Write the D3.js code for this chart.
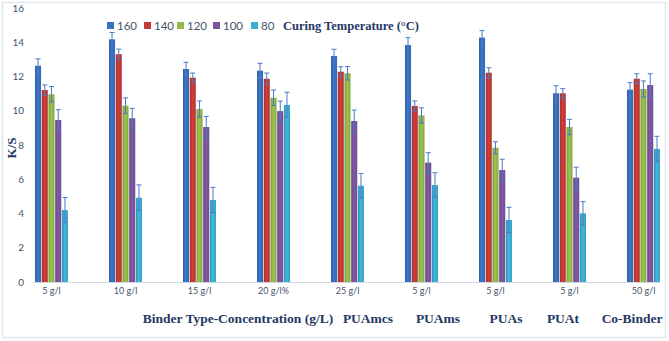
<!DOCTYPE html>
<html>
<head>
<meta charset="utf-8">
<script src="https://cdn.jsdelivr.net/npm/d3@7"></script>
<style>
  body { margin: 0; background: #fff; }
  svg { display: block; }
</style>
</head>
<body>
<div class="chart"></div>
<script>
// data
var groups = ["5 g/l", "10 g/l", "15 g/l", "20 g/l%", "25 g/l", "5 g/l ", "5 g/l  ", "5 g/l   ", "50 g/l"];
var temps = ["160", "140", "120", "100", "80"];
var k160 = [12.63, 14.17, 12.44, 12.34, 13.2, 13.84, 14.27, 11.02, 11.23];
var k140 = [11.21, 13.3, 11.93, 11.87, 12.28, 10.28, 12.22, 11.02, 11.87];
var k120 = [10.96, 10.3, 10.1, 10.76, 12.19, 9.73, 7.84, 9.05, 11.27];
var k100 = [9.46, 9.56, 9.05, 9.98, 9.4, 6.97, 6.54, 6.09, 11.5];
var k80 = [4.2, 4.92, 4.79, 10.34, 5.62, 5.66, 3.62, 4.01, 7.77];
var e160 = [0.4, 0.4, 0.39, 0.43, 0.39, 0.43, 0.41, 0.44, 0.41];
var e140 = [0.3, 0.3, 0.27, 0.33, 0.29, 0.29, 0.29, 0.27, 0.29];
var e120 = [0.45, 0.45, 0.47, 0.45, 0.39, 0.44, 0.35, 0.45, 0.47];
var e100 = [0.6, 0.58, 0.62, 0.58, 0.64, 0.58, 0.63, 0.61, 0.66];
var e80 = [0.73, 0.75, 0.74, 0.74, 0.72, 0.72, 0.74, 0.68, 0.74];
var yTicks = [0, 2, 4, 6, 8, 10, 12, 14, 16];
var binderLabels = ["Binder Type-Concentration (g/L)", "PUAmcs", "PUAms", "PUAs", "PUAt", "Co-Binder"];

var colors = ["#3a70c0", "#c43a36", "#94b94a", "#7a54a0", "#3cb0d2"];
var values = [k160, k140, k120, k100, k80];
var errors = [e160, e140, e120, e100, e80];

var svgWidth = 669;
var svgHeight = 341;

var svg = d3.select(".chart")
  .append("svg")
  .attr("width", svgWidth)
  .attr("height", svgHeight);

// outer frame
svg.append("rect")
  .attr("x", 2.5).attr("y", 2.5)
  .attr("width", 663).attr("height", 335)
  .attr("fill", "none")
  .attr("stroke", "#dfe6f0")
  .attr("stroke-width", 1.5);

// gradients so bars look a little shaded
var defs = svg.append("defs");
colors.forEach(function(c, i) {
  var g = defs.append("linearGradient")
    .attr("id", "grad" + i)
    .attr("x1", "0%").attr("x2", "100%").attr("y1", "0%").attr("y2", "0%");
  g.append("stop").attr("offset", "0%").attr("stop-color", d3.color(c).darker(0.5));
  g.append("stop").attr("offset", "45%").attr("stop-color", d3.color(c).brighter(0.15));
  g.append("stop").attr("offset", "100%").attr("stop-color", d3.color(c).darker(0.25));
});

// scales
var x0 = d3.scaleBand()
  .domain(groups)
  .range([16.5, 678.5])
  .paddingInner(0.554)
  .paddingOuter(0.25);

var x1 = d3.scaleBand()
  .domain(temps)
  .range([0, x0.bandwidth()])
  .paddingInner(0.1);

var y = d3.scaleLinear()
  .domain([0, 16])
  .range([282, 8]);

// y tick labels (no axis line)
var yAxis = d3.axisLeft(y).tickValues(yTicks).tickSize(0).tickPadding(0);
var yg = svg.append("g")
  .attr("transform", "translate(24,0)")
  .call(yAxis);
yg.select(".domain").remove();
yg.selectAll("text")
  .attr("font-family", "Lato, 'Open Sans', sans-serif")
  .attr("font-size", 10)
  .attr("fill", "#44546a");

// bars
var rows = [];
groups.forEach(function(g, gi) {
  temps.forEach(function(t, ti) {
    rows.push({ group: g, temp: t, ti: ti, v: values[ti][gi], e: errors[ti][gi] });
  });
});

svg.append("g").selectAll("rect")
  .data(rows)
  .enter()
  .append("rect")
  .attr("x", d => x0(d.group) + x1(d.temp))
  .attr("y", d => y(d.v))
  .attr("width", x1.bandwidth())
  .attr("height", d => y(0) - y(d.v))
  .attr("fill", d => "url(#grad" + d.ti + ")");

// error bars
var eb = svg.append("g")
  .attr("stroke", "#4a78c8")
  .attr("stroke-width", 1);

rows.forEach(function(d) {
  var cx = x0(d.group) + x1(d.temp) + x1.bandwidth() / 2;
  eb.append("line")
    .attr("x1", cx).attr("x2", cx)
    .attr("y1", y(d.v + d.e)).attr("y2", y(d.v - d.e));
  eb.append("line")
    .attr("x1", cx - 2.5).attr("x2", cx + 2.5)
    .attr("y1", y(d.v + d.e)).attr("y2", y(d.v + d.e));
  eb.append("line")
    .attr("x1", cx - 2.5).attr("x2", cx + 2.5)
    .attr("y1", y(d.v - d.e)).attr("y2", y(d.v - d.e));
});

// x axis line and category labels
svg.append("line")
  .attr("x1", 33).attr("x2", 660)
  .attr("y1", y(0) + 0.5).attr("y2", y(0) + 0.5)
  .attr("stroke", "#d0d8e4");

var xAxis = d3.axisBottom(x0).tickSize(0).tickPadding(0);
var xg = svg.append("g")
  .attr("transform", "translate(0,288)")
  .call(xAxis);
xg.select(".domain").remove();
xg.selectAll("text")
  .attr("font-family", "Lato, 'Open Sans', sans-serif")
  .attr("font-size", 9)
  .attr("fill", "#44546a");

// binder type labels
var binderX = [238, 368, 438, 506, 563, 632];
svg.append("g").selectAll("text")
  .data(binderLabels)
  .enter()
  .append("text")
  .attr("x", (d, i) => binderX[i])
  .attr("y", 323)
  .attr("text-anchor", "middle")
  .attr("font-family", "'Liberation Serif', 'Times New Roman', serif")
  .attr("font-weight", "bold")
  .attr("font-size", 13.5)
  .attr("fill", "#1f3864")
  .text(d => d);

// y title
svg.append("text")
  .attr("transform", "translate(16,148) rotate(-90)")
  .attr("text-anchor", "middle")
  .attr("font-family", "'Liberation Serif', 'Times New Roman', serif")
  .attr("font-weight", "bold")
  .attr("font-size", 13)
  .attr("fill", "#1f3864")
  .text("K/S");

// legend
var legendX = [107, 144, 177, 213, 251];
var legend = svg.append("g");
temps.forEach(function(t, i) {
  legend.append("rect")
    .attr("x", legendX[i]).attr("y", 22)
    .attr("width", 7).attr("height", 7)
    .attr("fill", colors[i]);
  legend.append("text")
    .attr("x", legendX[i] + 10).attr("y", 30)
    .attr("font-family", "Lato, 'Open Sans', sans-serif")
    .attr("font-size", 11.5)
    .attr("fill", "#44546a")
    .text(t);
});
legend.append("text")
  .attr("x", 283).attr("y", 30)
  .attr("font-family", "'Liberation Serif', 'Times New Roman', serif")
  .attr("font-weight", "bold")
  .attr("font-size", 12.5)
  .attr("fill", "#1f3864")
  .text("Curing Temperature (°C)");
</script>
</body>
</html>
